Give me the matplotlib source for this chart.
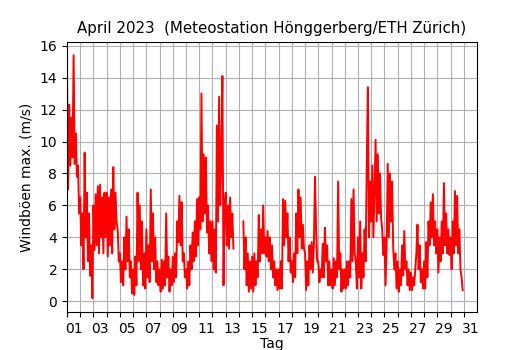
import numpy as np
import matplotlib
matplotlib.use("Agg")
import matplotlib.pyplot as plt

nan = np.nan
# Wind gust max (m/s), 2-hourly readings (12 per day), April 2023
week1 = [
    14.2, 7.0, 12.3, 8.5, 11.5, 9.0, 15.4, 8.6, 10.5, 7.8, 8.5, 5.5,   # 01
    6.5, 3.5, 5.5, 2.0, 9.3, 4.0, 6.8, 2.5, 5.5, 1.6, 3.5, 0.2,        # 02
    6.0, 3.2, 6.7, 3.5, 7.2, 3.0, 7.3, 4.0, 6.5, 3.0, 6.8, 4.0,        # 03
    6.8, 2.8, 6.5, 3.5, 7.0, 3.0, 8.4, 4.5, 6.8, 5.0, 4.5, 2.5,        # 04
    3.0, 1.2, 2.5, 1.0, 4.0, 2.0, 5.3, 2.5, 4.5, 1.5, 2.5, 0.5,        # 05
    2.0, 0.4, 2.8, 1.0, 6.8, 2.5, 6.0, 2.0, 5.0, 1.0, 3.0, 0.8,        # 06
    4.5, 1.5, 3.5, 1.2, 7.0, 2.5, 5.5, 2.0, 4.0, 1.2, 2.5, 1.0,        # 07
]
week2 = [
    2.0, 0.6, 2.6, 0.8, 2.5, 1.0, 5.5, 1.5, 2.8, 0.6, 2.0, 1.0,        # 08
    2.8, 1.2, 3.0, 1.5, 5.0, 3.7, 6.6, 3.5, 6.2, 2.5, 3.0, 1.5,        # 09
    2.0, 0.8, 2.5, 1.0, 3.5, 2.0, 4.3, 2.5, 5.0, 2.8, 6.4, 3.5,        # 10
    6.5, 4.5, 13.0, 5.0, 9.2, 5.5, 9.0, 4.3, 6.0, 3.0, 5.0, 2.5,       # 11
    5.0, 2.0, 4.5, 1.8, 11.0, 5.0, 12.8, 6.0, 9.0, 14.1, 1.0, 6.0,     # 12
    6.8, 3.5, 6.0, 3.3, 6.5, 4.0, 5.5, 3.3, nan, nan, nan, nan,        # 13
    nan, nan, nan, nan, 5.0, 2.0, 4.0, 1.0, 3.0, 0.6, 2.5, 0.8,        # 14
]
week3 = [
    2.8, 0.6, 3.0, 1.0, 2.5, 1.5, 5.4, 2.5, 4.5, 3.0, 6.0, 3.0,        # 15
    4.0, 2.8, 4.4, 2.5, 4.0, 2.0, 3.5, 1.5, 2.5, 1.0, 2.0, 0.7,        # 16
    2.0, 0.8, 2.5, 0.8, 6.4, 3.5, 6.3, 4.0, 5.5, 2.5, 4.0, 1.8,        # 17
    2.5, 1.2, 3.0, 1.5, 5.5, 3.0, 7.0, 4.0, 6.5, 3.3, 4.8, 3.3,        # 18
    3.0, 0.7, 2.5, 1.0, 3.5, 2.0, 3.7, 1.8, 3.5, 7.8, 4.5, 2.5,        # 19
    2.5, 1.2, 2.0, 1.5, 3.6, 1.5, 4.6, 2.5, 3.5, 1.0, 2.5, 1.0,        # 20
    2.0, 0.8, 2.7, 1.0, 2.5, 1.5, 7.5, 2.0, 3.0, 0.6, 2.0, 0.8,        # 21
]
week4 = [
    2.0, 0.8, 2.5, 1.0, 2.5, 1.5, 6.4, 2.5, 7.0, 3.0, 2.5, 0.8,        # 22
    4.0, 1.5, 5.0, 0.8, 3.0, 1.5, 4.5, 2.5, 8.7, 13.4, 4.0, 7.5,       # 23
    5.0, 8.5, 4.0, 7.0, 10.1, 5.0, 9.2, 5.5, 8.0, 5.2, 4.5, 2.9,       # 24
    4.0, 1.0, 3.5, 8.6, 4.0, 8.0, 5.0, 7.5, 3.3, 2.0, 3.0, 0.8,        # 25
    2.5, 0.6, 2.0, 1.0, 3.5, 1.6, 4.4, 2.0, 2.5, 1.0, 2.0, 0.7,        # 26
    1.8, 0.7, 1.5, 1.0, 2.0, 3.0, 4.8, 2.0, 3.5, 1.2, 2.0, 0.8,        # 27
    2.5, 0.8, 3.7, 1.5, 5.0, 3.5, 6.2, 4.0, 6.7, 3.5, 5.0, 3.0,        # 28
    4.5, 1.8, 4.0, 2.5, 5.0, 3.0, 7.4, 3.5, 5.5, 3.0, 4.5, 2.9,        # 29
    4.0, 2.0, 5.0, 3.0, 6.9, 3.5, 6.6, 3.0, 4.5, 2.0, 1.5, 0.7,        # 30
]
samples_per_day = 12
tick_days = list(range(1, 32))
label_days = list(range(1, 32, 2))

gust = np.array(week1 + week2 + week3 + week4, dtype=float)
t = 1 + np.arange(len(gust)) / samples_per_day

fig = plt.figure(figsize=(5.3, 3.5), dpi=100)
ax = fig.add_axes([67/530, 1-312.3/350, 410/530, 270/350])
ax.plot(t, gust, color="red", linewidth=1.4)

ax.set_xlim(1, 32)
ax.set_ylim(-0.69, 16.21)
ax.set_xticks(tick_days)
ax.set_xticklabels([""] * len(tick_days))
ax.set_xticks([d + 0.5 for d in label_days], minor=True)
ax.set_xticklabels(["%02d" % d for d in label_days], minor=True)
ax.tick_params(axis="x", which="minor", length=0, pad=7)
ax.set_yticks(range(0, 17, 2))
ax.grid(True, color="#b0b0b0", linewidth=0.8)

ax.set_title("April 2023  (Meteostation Hönggerberg/ETH Zürich)", fontsize=10.8, pad=7)
ax.set_ylabel("Windböen max. (m/s)")
ax.set_xlabel("Tag", labelpad=1)

fig.savefig("out.png", dpi=100)
